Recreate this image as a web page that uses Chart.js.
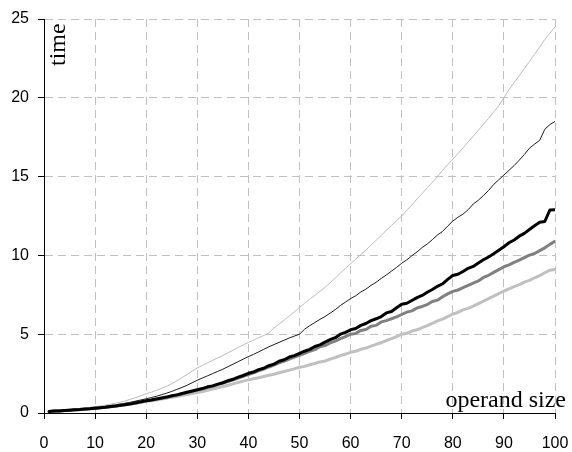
<!DOCTYPE html>
<html>
<head>
<meta charset="utf-8">
<script src="https://cdn.jsdelivr.net/npm/chart.js@4"></script>
<style>
  html, body { margin: 0; padding: 0; background: #fff; }
</style>
</head>
<body>
<canvas id="timeChart" width="572" height="452"></canvas>
<script>
// operand size 1..100
const operandSizes = Array.from({ length: 100 }, (_, i) => i + 1);

const lightThin = [
    0.10, 0.13, 0.15, 0.18, 0.21, 0.24, 0.27, 0.31, 0.35,
    0.40, 0.45, 0.50, 0.56, 0.62, 0.69, 0.78, 0.88, 0.98, 1.10,
    1.22, 1.32, 1.44, 1.56, 1.70, 1.86, 2.04, 2.24, 2.44, 2.66,
    2.86, 3.02, 3.18, 3.34, 3.50, 3.64, 3.82, 3.98, 4.16, 4.32,
    4.48, 4.62, 4.78, 4.92, 5.08, 5.40, 5.64, 5.90, 6.16, 6.42,
    6.70, 6.96, 7.22, 7.46, 7.72, 7.98, 8.26, 8.56, 8.88, 9.18,
    9.48, 9.76, 10.06, 10.34, 10.66, 10.96, 11.26, 11.60, 11.90, 12.20,
    12.50, 12.86, 13.20, 13.58, 13.92, 14.30, 14.64, 15.00, 15.40, 15.76,
    16.10, 16.46, 16.82, 17.20, 17.56, 17.94, 18.32, 18.70, 19.10, 19.50,
    20.00, 20.52, 20.96, 21.40, 21.86, 22.30, 22.76, 23.22, 23.70, 24.10,
    24.50
];

const blackThin = [
    0.10, 0.12, 0.14, 0.16, 0.18, 0.20, 0.23, 0.26, 0.30,
    0.34, 0.38, 0.42, 0.47, 0.52, 0.57, 0.63, 0.69, 0.76, 0.83,
    0.90, 0.98, 1.06, 1.16, 1.26, 1.37, 1.50, 1.62, 1.76, 1.92,
    2.08, 2.22, 2.36, 2.50, 2.64, 2.78, 2.94, 3.10, 3.26, 3.42,
    3.58, 3.72, 3.88, 4.04, 4.20, 4.34, 4.48, 4.62, 4.76, 4.88,
    5.00, 5.32, 5.54, 5.74, 5.94, 6.12, 6.34, 6.56, 6.82, 7.04,
    7.26, 7.44, 7.68, 7.86, 8.10, 8.30, 8.54, 8.76, 9.00, 9.24,
    9.50, 9.72, 9.98, 10.22, 10.50, 10.72, 11.00, 11.30, 11.52, 11.86,
    12.18, 12.42, 12.62, 12.90, 13.26, 13.50, 13.80, 14.12, 14.50, 14.80,
    15.10, 15.40, 15.70, 16.04, 16.40, 16.80, 17.06, 17.30, 18.00, 18.30,
    18.50
];

const blackThick = [
    0.10, 0.12, 0.13, 0.16, 0.18, 0.20, 0.22, 0.25, 0.27,
    0.30, 0.33, 0.36, 0.41, 0.44, 0.49, 0.54, 0.58, 0.65, 0.71,
    0.78, 0.82, 0.89, 0.95, 1.01, 1.09, 1.15, 1.24, 1.32, 1.40,
    1.48, 1.55, 1.66, 1.72, 1.83, 1.92, 2.05, 2.14, 2.28, 2.38,
    2.52, 2.60, 2.75, 2.84, 3.00, 3.10, 3.28, 3.38, 3.55, 3.64,
    3.78, 3.92, 4.04, 4.22, 4.32, 4.50, 4.66, 4.78, 5.00, 5.12,
    5.28, 5.36, 5.56, 5.68, 5.86, 5.98, 6.12, 6.35, 6.44, 6.68,
    6.90, 6.96, 7.14, 7.32, 7.46, 7.66, 7.84, 8.04, 8.20, 8.48,
    8.72, 8.80, 8.98, 9.18, 9.30, 9.52, 9.72, 9.90, 10.10, 10.32,
    10.55, 10.80, 10.98, 11.22, 11.40, 11.64, 11.88, 12.10, 12.15, 12.88,
    12.90
];

const grayThick = [
    0.10, 0.12, 0.14, 0.16, 0.18, 0.20, 0.22, 0.25, 0.28,
    0.31, 0.33, 0.37, 0.40, 0.45, 0.49, 0.53, 0.59, 0.64, 0.71,
    0.77, 0.82, 0.88, 0.93, 1.00, 1.06, 1.14, 1.21, 1.30, 1.37,
    1.45, 1.53, 1.62, 1.70, 1.80, 1.90, 2.00, 2.10, 2.22, 2.33,
    2.44, 2.55, 2.68, 2.78, 2.92, 3.04, 3.18, 3.30, 3.42, 3.55,
    3.66, 3.78, 3.92, 4.02, 4.20, 4.28, 4.45, 4.56, 4.72, 4.85,
    5.00, 5.05, 5.24, 5.30, 5.50, 5.56, 5.78, 5.86, 5.98, 6.10,
    6.25, 6.40, 6.48, 6.66, 6.76, 6.88, 7.08, 7.16, 7.38, 7.56,
    7.72, 7.80, 7.96, 8.10, 8.24, 8.38, 8.60, 8.74, 8.92, 9.10,
    9.28, 9.40, 9.56, 9.70, 9.86, 10.02, 10.12, 10.30, 10.48, 10.70,
    10.90
];

const lightThick = [
    0.10, 0.12, 0.13, 0.15, 0.17, 0.19, 0.21, 0.24, 0.27,
    0.30, 0.33, 0.36, 0.40, 0.44, 0.48, 0.52, 0.57, 0.62, 0.68,
    0.74, 0.78, 0.83, 0.88, 0.93, 0.99, 1.05, 1.11, 1.18, 1.24,
    1.30, 1.37, 1.44, 1.52, 1.60, 1.68, 1.76, 1.85, 1.94, 2.02,
    2.10, 2.17, 2.24, 2.32, 2.40, 2.46, 2.55, 2.63, 2.72, 2.80,
    2.90, 2.96, 3.06, 3.14, 3.24, 3.30, 3.42, 3.52, 3.64, 3.74,
    3.85, 3.92, 4.04, 4.12, 4.24, 4.36, 4.46, 4.60, 4.72, 4.84,
    5.00, 5.06, 5.20, 5.28, 5.42, 5.54, 5.68, 5.84, 5.96, 6.12,
    6.28, 6.38, 6.54, 6.64, 6.78, 6.94, 7.10, 7.26, 7.42, 7.58,
    7.74, 7.88, 8.02, 8.14, 8.30, 8.42, 8.58, 8.72, 8.90, 9.06,
    9.10
];

const xTicks = [0, 10, 20, 30, 40, 50, 60, 70, 80, 90, 100];
const yTicks = [0, 5, 10, 15, 20, 25];

function points(values) {
    return values.map((v, i) => ({ x: operandSizes[i], y: v }));
}

// axis titles sit inside the plot area
const insideTitles = {
    id: 'insideTitles',
    afterDraw(chart) {
        const ctx = chart.ctx;
        const area = chart.chartArea;
        ctx.save();
        ctx.fillStyle = '#000';
        ctx.font = '24px "Liberation Serif", "Times New Roman", serif';
        ctx.textAlign = 'right';
        ctx.textBaseline = 'alphabetic';
        ctx.fillText('operand size', area.right + 11, area.bottom - 6);
        ctx.translate(area.left + 21, area.top + 47);
        ctx.rotate(-Math.PI / 2);
        ctx.textAlign = 'left';
        ctx.fillText('time', 0, 0);
        ctx.restore();
    }
};

const whiteBg = {
    id: 'whiteBg',
    beforeDraw(chart) {
        const ctx = chart.ctx;
        ctx.save();
        ctx.fillStyle = '#fff';
        ctx.fillRect(0, 0, chart.width, chart.height);
        ctx.restore();
    }
};

const gridStyle = {
    color: '#c0c0c0',
    lineWidth: 1,
    tickColor: '#000',
    tickLength: 6,
    tickWidth: 1,
    tickBorderDash: []
};

new Chart(document.getElementById('timeChart').getContext('2d'), {
    type: 'line',
    data: {
        datasets: [
            { data: points(blackThick), borderColor: '#000000', borderWidth: 3, order: 0 },
            { data: points(grayThick), borderColor: '#808080', borderWidth: 3, order: 1 },
            { data: points(lightThick), borderColor: '#c0c0c0', borderWidth: 3, order: 2 },
            { data: points(blackThin), borderColor: '#1a1a1a', borderWidth: 1, order: 3 },
            { data: points(lightThin), borderColor: '#bcbcbc', borderWidth: 1, order: 4 }
        ]
    },
    options: {
        responsive: false,
        animation: false,
        devicePixelRatio: 1,
        elements: {
            point: { radius: 0 },
            line: { tension: 0, borderJoinStyle: 'round', borderCapStyle: 'round', fill: false }
        },
        layout: { padding: { top: 19, right: 17, left: 0, bottom: 0 } },
        plugins: {
            legend: { display: false },
            tooltip: { enabled: false }
        },
        scales: {
            x: {
                type: 'linear',
                min: 0,
                max: 100,
                afterBuildTicks: s => { s.ticks = xTicks.map(v => ({ value: v })); },
                afterFit: s => {
                    s.height = 39;
                    s.paddingLeft = 0;
                    s.paddingRight = 0;
                },
                grid: gridStyle,
                border: { display: true, color: '#000', width: 1, dash: [8, 5] },
                ticks: {
                    color: '#000',
                    padding: 15,
                    maxRotation: 0,
                    font: { family: '"Liberation Sans", Arial, sans-serif', size: 16 }
                }
            },
            y: {
                type: 'linear',
                min: 0,
                max: 25,
                afterBuildTicks: s => { s.ticks = yTicks.map(v => ({ value: v })); },
                afterFit: s => {
                    s.width = 44;
                    s.paddingTop = 0;
                    s.paddingBottom = 0;
                },
                grid: gridStyle,
                border: { display: true, color: '#000', width: 1, dash: [8, 5] },
                ticks: {
                    color: '#000',
                    padding: 9,
                    font: { family: '"Liberation Sans", Arial, sans-serif', size: 16 }
                }
            }
        }
    },
    plugins: [whiteBg, insideTitles]
});
</script>
</body>
</html>
